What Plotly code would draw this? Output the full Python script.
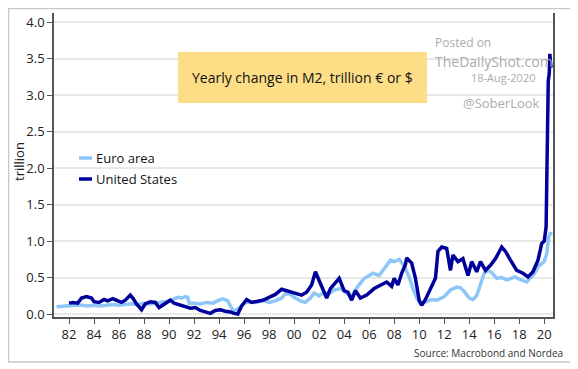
import plotly.graph_objects as go

# ---- data (decimal years, trillions) ----
eu_x = [1981.0, 1981.5, 1982.0, 1982.5, 1983.0, 1983.5, 1984.0, 1984.5, 1985.0, 1985.5,
        1986.0, 1986.5, 1987.0, 1987.5, 1988.0, 1988.5, 1989.0, 1989.5, 1990.0, 1990.4,
        1990.7, 1991.0, 1991.3, 1991.5, 1991.6, 1992.0, 1992.5, 1993.0, 1993.5, 1994.0,
        1994.3, 1994.7, 1995.0, 1995.2, 1995.5, 1996.0, 1996.5, 1997.0, 1997.5, 1998.0,
        1998.5, 1999.0, 1999.3, 1999.7, 2000.0, 2000.5, 2000.9, 2001.3, 2001.6, 2002.0,
        2002.4, 2002.8, 2003.2, 2003.7, 2004.0, 2004.3, 2004.6, 2005.0, 2005.3, 2005.6,
        2006.0, 2006.3, 2006.8, 2007.1, 2007.4, 2007.7, 2008.0, 2008.4, 2008.8, 2009.2,
        2009.5, 2009.8, 2010.1, 2010.4, 2010.7, 2011.0, 2011.4, 2011.7, 2012.0, 2012.5,
        2013.0, 2013.3, 2013.6, 2014.0, 2014.3, 2014.6, 2014.9, 2015.2, 2015.5, 2015.8,
        2016.2, 2016.6, 2017.0, 2017.4, 2017.7, 2018.0, 2018.3, 2018.6, 2018.9, 2019.2,
        2019.5, 2019.8, 2020.0, 2020.2, 2020.35, 2020.5, 2020.55]
eu_y = [0.10, 0.11, 0.11, 0.12, 0.12, 0.11, 0.12, 0.11, 0.12, 0.13,
        0.12, 0.13, 0.14, 0.13, 0.15, 0.14, 0.15, 0.17, 0.18, 0.21,
        0.23, 0.22, 0.24, 0.23, 0.15, 0.15, 0.14, 0.16, 0.15, 0.19,
        0.21, 0.18, 0.08, 0.04, 0.07, 0.15, 0.17, 0.16, 0.19, 0.16,
        0.18, 0.22, 0.28, 0.27, 0.23, 0.18, 0.16, 0.22, 0.29, 0.25,
        0.30, 0.28, 0.33, 0.35, 0.31, 0.27, 0.24, 0.36, 0.43, 0.49,
        0.53, 0.56, 0.53, 0.60, 0.68, 0.74, 0.72, 0.75, 0.66, 0.51,
        0.35, 0.22, 0.14, 0.16, 0.18, 0.20, 0.19, 0.22, 0.24, 0.33,
        0.37, 0.36, 0.31, 0.22, 0.20, 0.25, 0.42, 0.56, 0.60, 0.57,
        0.49, 0.50, 0.47, 0.49, 0.51, 0.48, 0.46, 0.44, 0.50, 0.55,
        0.65, 0.70, 0.72, 0.83, 1.05, 1.12, 1.08]

us_x = [1982.0, 1982.3, 1982.7, 1983.0, 1983.4, 1983.8, 1984.0, 1984.4, 1984.8, 1985.1,
        1985.5, 1985.8, 1986.2, 1986.5, 1986.9, 1987.1, 1987.4, 1987.8, 1988.1, 1988.5,
        1988.9, 1989.2, 1989.5, 1989.8, 1990.1, 1990.4, 1990.8, 1991.2, 1991.7, 1992.1,
        1992.5, 1992.9, 1993.3, 1993.7, 1994.1, 1994.5, 1994.9, 1995.2, 1995.5, 1995.8,
        1996.2, 1996.6, 1997.0, 1997.5, 1998.0, 1998.5, 1999.0, 1999.4, 1999.8, 2000.2,
        2000.6, 2001.0, 2001.4, 2001.7, 2002.0, 2002.3, 2002.6, 2002.9, 2003.3, 2003.6,
        2004.0, 2004.3, 2004.6, 2004.9, 2005.3, 2005.8, 2006.4, 2006.9, 2007.4, 2007.8,
        2008.0, 2008.3, 2008.6, 2008.9, 2009.0, 2009.4, 2009.7, 2010.0, 2010.2, 2010.5,
        2010.9, 2011.3, 2011.5, 2011.8, 2012.2, 2012.5, 2012.7, 2013.1, 2013.5, 2013.9,
        2014.2, 2014.6, 2014.9, 2015.3, 2015.7, 2016.1, 2016.6, 2016.9, 2017.3, 2017.8,
        2018.3, 2018.7, 2019.1, 2019.5, 2019.8, 2020.0, 2020.15, 2020.25, 2020.32, 2020.4,
        2020.45, 2020.5, 2020.55]
us_y = [0.15, 0.16, 0.15, 0.22, 0.24, 0.22, 0.17, 0.16, 0.20, 0.18,
        0.21, 0.19, 0.16, 0.19, 0.26, 0.22, 0.14, 0.06, 0.14, 0.17,
        0.16, 0.09, 0.12, 0.16, 0.19, 0.15, 0.13, 0.11, 0.08, 0.09,
        0.05, 0.03, 0.01, 0.05, 0.06, 0.04, 0.03, 0.01, 0.00, 0.11,
        0.20, 0.16, 0.17, 0.19, 0.23, 0.27, 0.34, 0.32, 0.30, 0.28,
        0.26, 0.30, 0.40, 0.58, 0.45, 0.35, 0.22, 0.35, 0.44, 0.49,
        0.32, 0.30, 0.19, 0.32, 0.22, 0.26, 0.35, 0.39, 0.44, 0.38,
        0.49, 0.40, 0.56, 0.68, 0.77, 0.70, 0.49, 0.19, 0.12, 0.20,
        0.35, 0.49, 0.86, 0.92, 0.90, 0.60, 0.81, 0.72, 0.76, 0.53,
        0.72, 0.58, 0.72, 0.60, 0.67, 0.76, 0.92, 0.86, 0.74, 0.60,
        0.56, 0.51, 0.58, 0.74, 0.97, 1.00, 1.20, 2.40, 3.20, 3.30,
        3.57, 3.45, 3.38]

tick_years = list(range(1982, 2021, 2))
tick_labels = ["82", "84", "86", "88", "90", "92", "94", "96", "98", "00",
               "02", "04", "06", "08", "10", "12", "14", "16", "18", "20"]
series_names = ["Euro area", "United States"]
series_colors = ["#8EC6F8", "#00009A"]

FONT = "Open Sans"

fig = go.Figure()
fig.add_trace(go.Scatter(x=eu_x, y=eu_y, mode="lines", name=series_names[0],
                         line=dict(color=series_colors[0], width=3.5), showlegend=False))
fig.add_trace(go.Scatter(x=us_x, y=us_y, mode="lines", name=series_names[1],
                         line=dict(color=series_colors[1], width=3.5), showlegend=False))

# page offset (browser body margin) compensation
O = 8
W, H = 578 - O, 369 - O
PL, PR, PT, PB = 54, 553, 13, 317   # plot box in screen pixels
L, T = PL - O, PT - O
R = W - (PR - O)
B = H - (PB - O)
pw, ph = W - L - R, H - T - B


def px(x):
    return (x - PL) / pw


def py(y):
    return (PB - y) / ph


def note(text, x, y, size, color, xanchor="center", **kw):
    return dict(text=text, xref="paper", yref="paper", x=px(x), y=py(y),
                xanchor=xanchor, yanchor="middle", showarrow=False,
                font=dict(family=FONT, size=size, color=color), **kw)


shapes = [
    # outer frame
    dict(type="rect", xref="paper", yref="paper", x0=px(8.5), x1=px(571), y0=py(362), y1=py(8.5),
         line=dict(color="#C8C8C8", width=1.5), layer="below"),
    # title box
    dict(type="rect", xref="paper", yref="paper", x0=px(178), x1=px(427), y0=py(103), y1=py(52),
         fillcolor="#FDDE87", line=dict(width=0), layer="above"),
]
GRAY = "#ABABAB"
annotations = [
    note("Yearly change in M2, trillion € or $", 302, 78, 14, "#111"),
    note("Posted on", 433, 42, 12, GRAY, xanchor="left"),
    note("TheDailyShot.com", 433, 61, 14, GRAY, xanchor="left"),
    note("18-Aug-2020", 538, 78, 11, GRAY, xanchor="right"),
    note("@SoberLook", 542, 103, 13, GRAY, xanchor="right"),
    note("trillion", 19, 162, 13, "#222", textangle=-90),
    note("Source: Macrobond and Nordea", 565, 353, 10, "#333", xanchor="right"),
]
# manual legend
for i, (nm, col) in enumerate(zip(series_names, series_colors)):
    yy = 158 + i * 21
    shapes.append(dict(type="line", xref="paper", yref="paper", x0=px(79), x1=px(92),
                       y0=py(yy), y1=py(yy), line=dict(color=col, width=3.5)))
    annotations.append(note(nm, 94, yy, 13, "#111", xanchor="left"))

fig.update_layout(
    width=W, height=H,
    margin=dict(l=L, r=R, t=T, b=B),
    paper_bgcolor="white", plot_bgcolor="white",
    font=dict(family=FONT, size=13, color="#222"),
    shapes=shapes, annotations=annotations,
    xaxis=dict(range=[1980.8, 2020.7], tickvals=tick_years, ticktext=tick_labels,
               showgrid=False, zeroline=False, showline=True, linecolor="#555", linewidth=1.5,
               ticks="outside", ticklen=5, tickcolor="#555", tickfont=dict(size=13)),
    yaxis=dict(range=[-0.04, 4.13], tickvals=[0, 0.5, 1, 1.5, 2, 2.5, 3, 3.5, 4],
               ticktext=["0.0", "0.5", "1.0", "1.5", "2.0", "2.5", "3.0", "3.5", "4.0"],
               showgrid=True, gridcolor="#E8E8E8", gridwidth=1.5, zeroline=False,
               showline=True, linecolor="#555", linewidth=1.5, mirror=True,
               ticks="outside", ticklen=5, tickcolor="#555", tickfont=dict(size=13)),
)

fig.write_html("out.html")
